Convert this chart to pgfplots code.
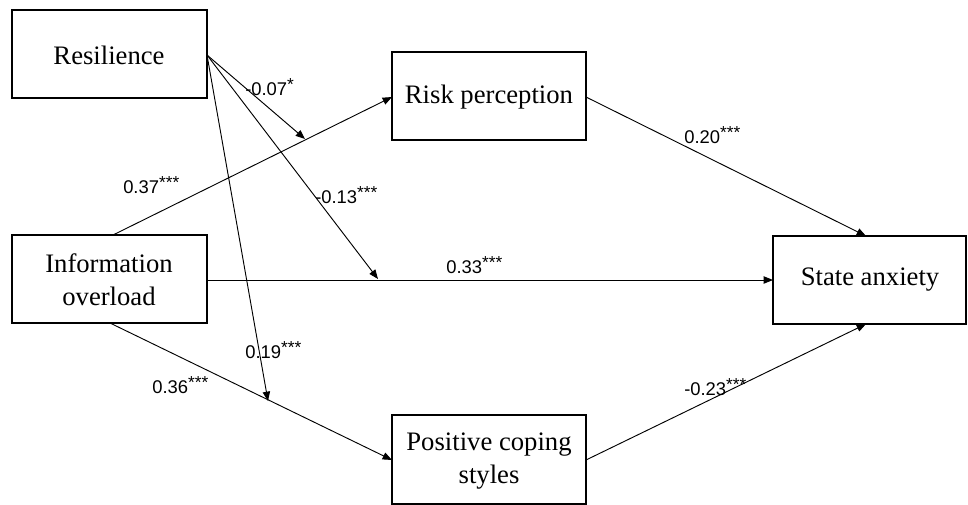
\documentclass[border=0pt]{standalone}
\usepackage{pgfplots}
\pgfplotsset{compat=1.18}
\usepackage{fontspec}
\setmainfont{Liberation Serif}
\newfontfamily\arial{Liberation Sans}
\usetikzlibrary{arrows.meta}
\newcommand{\st}[1]{\raisebox{0.28em}{\fontsize{13}{13}\selectfont #1}}
\tikzset{
  arr/.style={line width=0.7pt, line cap=butt, -{Triangle[length=7pt,width=5.5pt]}},
  coef/.style={anchor=west, inner sep=0pt, font=\arial\fontsize{13.8}{16}\selectfont},
  lbl/.style={font=\fontsize{20}{25}\selectfont, align=center},
}
\begin{document}
\begin{tikzpicture}
\useasboundingbox (0,0) rectangle (726pt,378pt);
\begin{axis}[
  at={(0,0)}, anchor=south west,
  width=726pt, height=378pt, scale only axis,
  xmin=0, xmax=968, ymin=0, ymax=504, y dir=reverse,
  axis lines=none, clip=true,
  every axis plot/.append style={black, line join=miter, line cap=rect},
]
% boxes
\addplot[line width=1.1pt] coordinates {(12,10)(207,10)(207,98)(12,98)(12,10)};
\addplot[line width=1.1pt] coordinates {(12,235)(207,235)(207,323)(12,323)(12,235)};
\addplot[line width=1.1pt] coordinates {(392,52)(586,52)(586,140)(392,140)(392,52)};
\addplot[line width=1.1pt] coordinates {(773,236)(966,236)(966,324)(773,324)(773,236)};
\addplot[line width=1.1pt] coordinates {(392,415)(586,415)(586,504)(392,504)(392,415)};
% paths
\addplot[arr] coordinates {(113,235)(392,97)};
\addplot[arr] coordinates {(586,97)(866,236)};
\addplot[arr] coordinates {(207,280)(773,280)};
\addplot[arr] coordinates {(110,323)(392,460)};
\addplot[arr] coordinates {(586,460)(866,324)};
\addplot[arr] coordinates {(207,55)(305,139)};
\addplot[arr] coordinates {(207,55)(378,279)};
\addplot[arr] coordinates {(207,55)(268,401)};
% box labels
\node[lbl] at (axis cs:109,55) {Resilience};
\node[lbl] at (axis cs:109,280) {Information\\overload};
\node[lbl] at (axis cs:489,97) {Risk perception};
\node[lbl] at (axis cs:870,280) {State anxiety};
\node[lbl] at (axis cs:489,461) {Positive coping\\styles};
% coefficients
\node[coef] at (axis cs:245,87) {-0.07\st{*}};
\node[coef] at (axis cs:123,185) {0.37\st{***}};
\node[coef] at (axis cs:315,195) {-0.13\st{***}};
\node[coef] at (axis cs:446,265) {0.33\st{***}};
\node[coef] at (axis cs:684,135) {0.20\st{***}};
\node[coef] at (axis cs:245,350) {0.19\st{***}};
\node[coef] at (axis cs:152,385) {0.36\st{***}};
\node[coef] at (axis cs:684,387) {-0.23\st{***}};
\end{axis}
\end{tikzpicture}
\end{document}
